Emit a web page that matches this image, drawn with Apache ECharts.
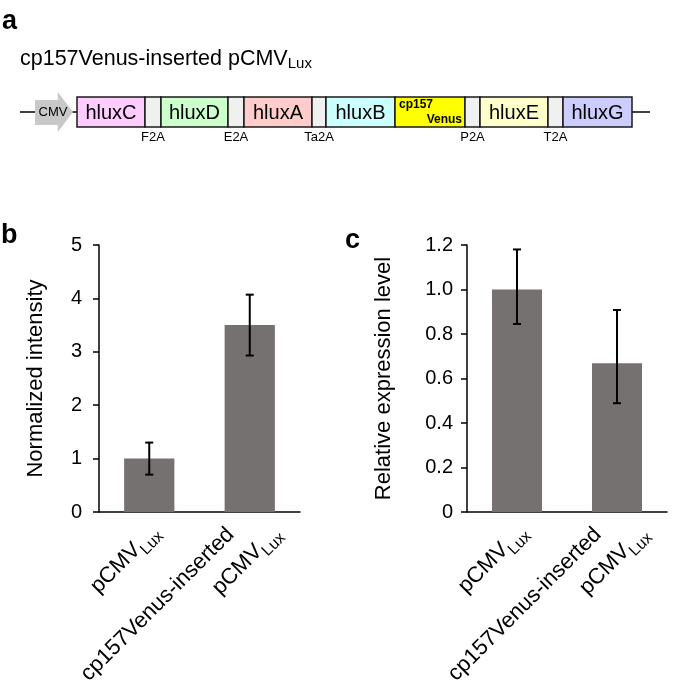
<!DOCTYPE html>
<html><head><meta charset="utf-8">
<script src="https://cdn.jsdelivr.net/npm/echarts@6/dist/echarts.min.js"></script>
<style>html,body{margin:0;padding:0;background:#fff}#c{width:685px;height:685px}</style>
</head><body><div id="c"></div>
<script>
// ---- data ----
const categories = ['pCMV_Lux', 'cp157Venus-inserted pCMV_Lux'];
const intensityMean = [1.0, 3.5];
const intensityLow = [0.70, 2.93];
const intensityHigh = [1.30, 4.07];
const expressionMean = [1.0, 0.668];
const expressionLow = [0.845, 0.489];
const expressionHigh = [1.18, 0.908];
const intensityTicks = ['0', '1', '2', '3', '4', '5'];
const expressionTicks = ['0', '0.2', '0.4', '0.6', '0.8', '1.0', '1.2'];
const partNames = ['CMV', 'hluxC', 'F2A', 'hluxD', 'E2A', 'hluxA', 'Ta2A', 'hluxB', 'cp157Venus', 'P2A', 'hluxE', 'T2A', 'hluxG'];
const partKinds = ['promoter', 'gene', 'linker', 'gene', 'linker', 'gene', 'linker', 'gene', 'venus', 'linker', 'gene', 'linker', 'gene'];
const partLengths = [38, 68, 16, 67, 16, 68, 14, 69, 70, 15, 68, 15, 69];
// ---- styles ----
const partColors = ['#c8c8c8', '#ffccff', '#f0f0f0', '#ccffcc', '#f0f0f0', '#ffcccc', '#f0f0f0', '#ccffff', '#ffff00', '#f0f0f0', '#ffffcc', '#f0f0f0', '#ccccff'];
const FONT = '"Liberation Sans", Arial, Helvetica, sans-serif';
const barColor = '#767171';

const leadIn = 15, promoterGap = 4, tailOut = 18;
const partData = [];
let pos = leadIn;
partLengths.forEach((len, i) => {
  partData.push([pos, pos + len, i]);
  pos += len;
  if (i === 0) pos += promoterGap;
});
const backboneEnd = pos + tailOut;

const chart = echarts.init(document.getElementById('c'), null, {renderer: 'canvas'});

function tickAxis(ticks) {
  const vals = ticks.map(Number);
  return {
    min: vals[0], max: vals[vals.length - 1], interval: vals[1] - vals[0],
    fmt: v => { const k = vals.findIndex(t => Math.abs(t - v) < 1e-9); return k >= 0 ? ticks[k] : ''; }
  };
}
const tI = tickAxis(intensityTicks), tE = tickAxis(expressionTicks);

const richLabel = {
  n: {fontSize: 22, fontFamily: FONT, color: '#000', lineHeight: 32},
  n1: {fontSize: 22, fontFamily: FONT, color: '#000', lineHeight: 32, padding: [0, 34, 0, 0]},
  s: {fontSize: 16, fontFamily: FONT, color: '#000', lineHeight: 16, verticalAlign: 'bottom'},
  sp: {fontSize: 16, fontFamily: FONT, color: '#000', lineHeight: 16, verticalAlign: 'bottom', padding: [0, 14, 0, 0]}
};
function catFormatter(val) {
  const [main, sub] = val.split('_');
  const idx = main.lastIndexOf(' ');
  if (idx > 0) return '{n1|' + main.slice(0, idx) + '}\n{n|' + main.slice(idx + 1) + '}{s|' + sub + '}';
  return '{n|' + main + '}{sp|' + sub + '}';
}

function xAxisCfg(gi) {
  return {
    type: 'category', gridIndex: gi, data: categories,
    axisLine: {lineStyle: {color: '#000', width: 1.5}},
    axisTick: {show: false},
    axisLabel: {interval: 0, rotate: 45, margin: 10, padding: [18, -14, 0, 0],
      formatter: catFormatter, rich: richLabel, hideOverlap: false}
  };
}
function yAxisCfg(gi, t, name, gap, lm) {
  return {
    type: 'value', gridIndex: gi, min: t.min, max: t.max, interval: t.interval,
    name: name, nameLocation: 'middle', nameGap: gap, nameRotate: 90,
    nameTextStyle: {fontSize: 22, fontFamily: FONT, color: '#000'},
    axisLine: {show: true, lineStyle: {color: '#000', width: 1.5}},
    axisTick: {show: true, length: 6, lineStyle: {color: '#000', width: 1.5}},
    splitLine: {show: false},
    axisLabel: {fontSize: 20, fontFamily: FONT, color: '#000', margin: lm, formatter: t.fmt}
  };
}
function errSeries(gi, low, high) {
  return {
    type: 'custom', xAxisIndex: gi, yAxisIndex: gi, z: 5,
    data: low.map((l, i) => [i, l, high[i]]),
    encode: {x: 0, y: [1, 2]},
    renderItem: (params, api) => {
      const top = api.coord([api.value(0), api.value(2)]);
      const bot = api.coord([api.value(0), api.value(1)]);
      const hw = 4, st = {stroke: '#000', lineWidth: 2};
      return {type: 'group', children: [
        {type: 'line', shape: {x1: top[0], y1: top[1], x2: bot[0], y2: bot[1]}, style: st},
        {type: 'line', shape: {x1: top[0] - hw, y1: top[1], x2: top[0] + hw, y2: top[1]}, style: st},
        {type: 'line', shape: {x1: bot[0] - hw, y1: bot[1], x2: bot[0] + hw, y2: bot[1]}, style: st}
      ]};
    }
  };
}

function partRender(params, api) {
  const i = api.value(2);
  const kind = partKinds[i];
  const a = api.coord([api.value(0), 37]);
  const b = api.coord([api.value(1), 7]);
  const x0 = a[0], y0 = a[1], x1 = b[0], y1 = b[1];
  const w = x1 - x0, h = y1 - y0, cx = (x0 + x1) / 2, cy = (y0 + y1) / 2;
  if (kind === 'promoter') {
    const bt = api.coord([0, 34])[1], bb = api.coord([0, 9])[1];
    const ht = api.coord([0, 42])[1], hb = api.coord([0, 2])[1];
    const xn = x0 + w * 0.6;
    return {type: 'group', children: [
      {type: 'polygon', shape: {points: [[x0, bt], [xn, bt], [xn, ht], [x1, cy], [xn, hb], [xn, bb], [x0, bb]]},
        style: {fill: partColors[i], stroke: 'none'}},
      {type: 'text', style: {text: partNames[i], x: x0 + 18, y: cy, align: 'center', verticalAlign: 'middle',
        fontSize: 13, fontFamily: FONT, fill: '#000'}}
    ]};
  }
  const children = [{type: 'rect', shape: {x: x0, y: y0, width: w, height: h},
    style: {fill: partColors[i], stroke: '#1a1a1a', lineWidth: 1.5}}];
  if (kind === 'gene') {
    children.push({type: 'text', style: {text: partNames[i], x: cx, y: cy + 1, align: 'center', verticalAlign: 'middle',
      fontSize: 20, fontFamily: FONT, fill: '#000'}});
  } else if (kind === 'linker') {
    children.push({type: 'text', style: {text: partNames[i], x: cx, y: y1 + 4, align: 'center', verticalAlign: 'top',
      fontSize: 13, fontFamily: FONT, fill: '#000'}});
  } else if (kind === 'venus') {
    const nm = partNames[i];
    children.push({type: 'text', style: {text: nm.slice(0, 5), x: x0 + 4, y: y0 + 2, align: 'left', verticalAlign: 'top',
      fontSize: 12, fontWeight: 'bold', fontFamily: FONT, fill: '#000'}});
    children.push({type: 'text', style: {text: nm.slice(5), x: x1 - 3, y: y1 - 1, align: 'right', verticalAlign: 'bottom',
      fontSize: 12, fontWeight: 'bold', fontFamily: FONT, fill: '#000'}});
  }
  return {type: 'group', children};
}

const panelLabel = {fontSize: 27, fontWeight: 'bold', color: '#000', fontFamily: FONT};
const option = {
  animation: false,
  backgroundColor: '#fff',
  textStyle: {fontFamily: FONT},
  title: [
    {text: 'a', left: 2, top: 8, padding: 0, textStyle: panelLabel},
    {text: '{m|cp157Venus-inserted pCMV}{s|Lux}', left: 20, top: 47, padding: 0,
      textStyle: {fontWeight: 'normal', rich: {
        m: {fontSize: 21.5, fontFamily: FONT, color: '#000', lineHeight: 24, fontWeight: 'normal'},
        s: {fontSize: 15, fontFamily: FONT, color: '#000', lineHeight: 15, verticalAlign: 'bottom', fontWeight: 'normal'}
      }}},
    {text: 'b', left: 1, top: 222, padding: 0, textStyle: panelLabel},
    {text: 'c', left: 345, top: 227, padding: 0, textStyle: panelLabel}
  ],
  grid: [
    {left: 99, right: 385, top: 245, bottom: 173, outerBoundsMode: 'none', containLabel: false},
    {left: 467, right: 18, top: 245, bottom: 173, outerBoundsMode: 'none', containLabel: false},
    {left: 20, right: 35, top: 90, height: 44, outerBoundsMode: 'none', containLabel: false}
  ],
  xAxis: [xAxisCfg(0), xAxisCfg(1),
    {type: 'value', gridIndex: 2, min: 0, max: backboneEnd, show: false}],
  yAxis: [yAxisCfg(0, tI, 'Normalized intensity', 52, 17), yAxisCfg(1, tE, 'Relative expression level', 72, 14),
    {type: 'value', gridIndex: 2, min: 0, max: 44, show: false}],
  series: [
    {type: 'bar', xAxisIndex: 0, yAxisIndex: 0, data: intensityMean, barWidth: '50%', itemStyle: {color: barColor}},
    errSeries(0, intensityLow, intensityHigh),
    {type: 'bar', xAxisIndex: 1, yAxisIndex: 1, data: expressionMean, barWidth: '50%', itemStyle: {color: barColor}},
    errSeries(1, expressionLow, expressionHigh),
    {type: 'line', xAxisIndex: 2, yAxisIndex: 2, data: [[0, 22], [backboneEnd, 22]], symbol: 'none',
      lineStyle: {color: '#000', width: 1.5}, z: 1, silent: true},
    {type: 'custom', xAxisIndex: 2, yAxisIndex: 2, data: partData, encode: {x: [0, 1]}, clip: false, z: 3,
      renderItem: partRender}
  ]
};
chart.setOption(option);
</script></body></html>
